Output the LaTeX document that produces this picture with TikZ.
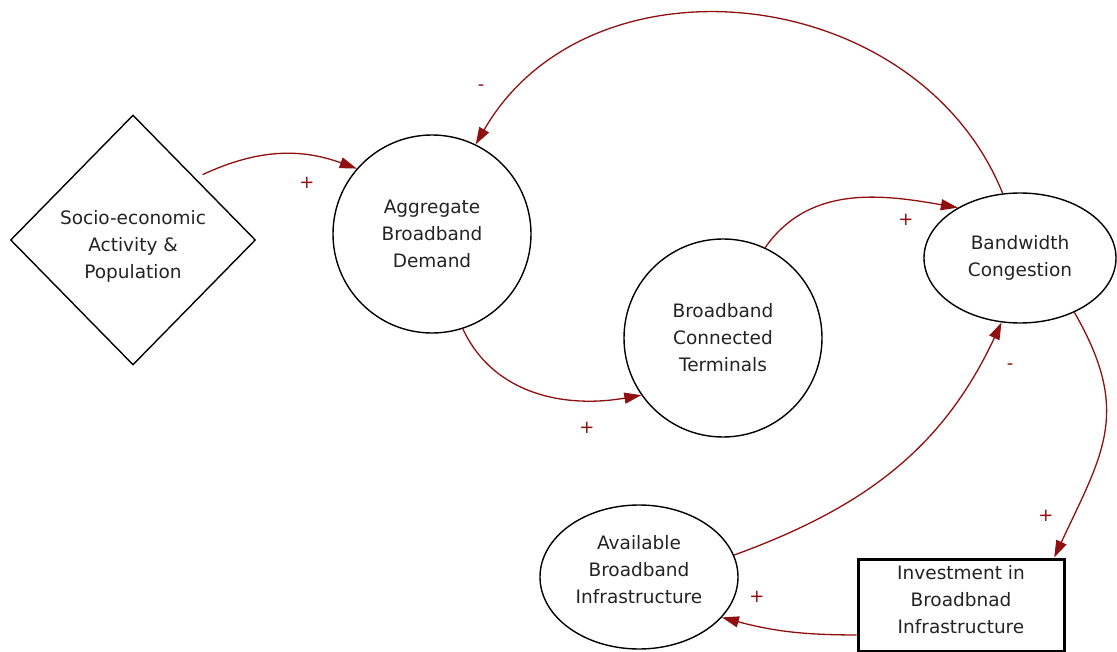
\documentclass[tikz,border=0pt]{standalone}
\usepackage{fontspec}
\setmainfont{DejaVu Sans}
\usetikzlibrary{shapes.geometric,arrows.meta}
\definecolor{linkred}{RGB}{145,15,15}
\definecolor{txtgray}{RGB}{35,35,35}
% lines set in a column, shifted vertically without changing the box size
\newcommand\liftlines[2]{\raisebox{#1}[\height][\depth]{\begin{tabular}{@{}c@{}}#2\end{tabular}}}
\begin{document}
\begin{tikzpicture}[x=1pt,y=-1pt,
  lbl/.style={font=\fontsize{18.5}{27}\selectfont, text=txtgray, align=center},
  var/.style={lbl, draw=black, line width=1.4pt, inner sep=1pt},
  circ/.style={var, circle, minimum size=198pt},
  oval/.style={var, ellipse, minimum width=#1},
  link/.style={draw=linkred, line width=1.3pt, -{Triangle[length=17pt,width=11pt]}},
  sign/.style={text=linkred, font=\fontsize{18}{18}\selectfont, inner sep=0pt}
]
\useasboundingbox (0,0) rectangle (1117,652);

% variables of the causal loop
\node[var, diamond, minimum width=245pt, minimum height=250pt] (soc) at (133,240)
  {\liftlines{-6pt}{Socio-economic\\Activity \&\\Population}};
\node[circ] (agg) at (432,234) {Aggregate\\Broadband\\Demand};
\node[circ] (bct) at (723,338) {Broadband\\Connected\\Terminals};
\node[oval=192pt, minimum height=130pt] (bw) at (1020,258) {Bandwidth\\Congestion};
\node[oval=198pt, minimum height=144pt] (av) at (639,577)
  {\liftlines{6pt}{Available\\Broadband\\Infrastructure}};
\node[lbl, draw=black, line width=3pt, minimum width=206pt, minimum height=92pt, inner sep=0pt]
  (inv) at (961,605) {\liftlines{4pt}{Investment in\\Broadbnad\\Infrastructure}};

% causal links
\draw[link] ([shift={(8pt,2.5pt)}]soc.north east) to[out=25,in=160] (agg.139);
\draw[link] (agg.-72) to[out=-65,in=190] (bct.215);
\draw[link] (bct.65) to[out=55,in=170] (bw.141);
\draw[link] (bw.105) to[out=112,in=60,looseness=1.1] (agg.64);
\draw[link] (bw.-45) to[out=-60,in=65,looseness=1.2] (inv.27);
\draw[link] (inv.196) to[out=180,in=-15] (av.-26);
\draw[link] (av.13) to[out=20,in=-115] (bw.-106);

% polarities
\node[sign] (p1) at (307,183) {+};
\node[sign] (p2) at (587,428) {+};
\node[sign] (p3) at (906,220) {+};
\node[sign] (p4) at (481,88) {-};
\node[sign] (p5) at (1046,516) {+};
\node[sign] (p6) at (757,597) {+};
\node[sign] (p7) at (1010,367) {-};
\end{tikzpicture}
\end{document}
